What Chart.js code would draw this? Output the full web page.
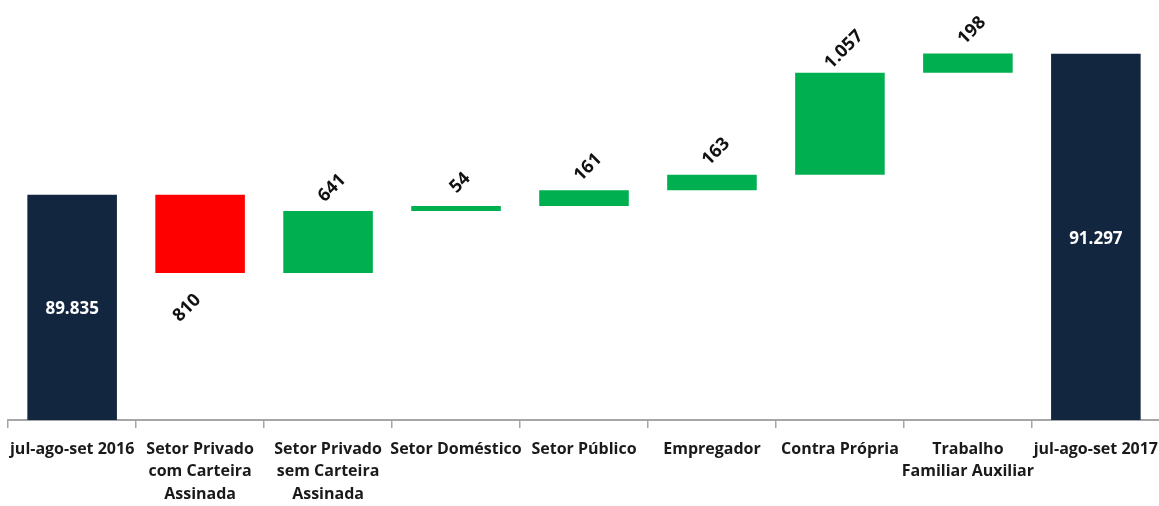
<!DOCTYPE html>
<html>
<head>
<meta charset="utf-8">
<script src="https://cdn.jsdelivr.net/npm/chart.js@4"></script>
<style>
    body { margin: 0; background: #fff; overflow: hidden; }
    #box { width: 1168px; height: 506px; }
</style>
</head>
<body>
<div id="box"><canvas id="waterfall"></canvas></div>
<script>
// categorias do eixo x
const categories = [
    'jul-ago-set 2016',
    ['Setor Privado', 'com Carteira', 'Assinada'],
    ['Setor Privado', 'sem Carteira', 'Assinada'],
    'Setor Doméstico',
    'Setor Público',
    'Empregador',
    'Contra Própria',
    ['Trabalho', 'Familiar Auxiliar'],
    'jul-ago-set 2017'
]
const startTotal = 89835
const endTotal = 91297
const changes = [-810, 641, 54, 161, 163, 1057, 198]

// eixo y cortado (nao comeca no zero)
const yMin = 87500
const yMax = 91855

const NAVY = '#13263f'
const RED = '#ff0000'
const GREEN = '#00b050'
const FONT = "'Open Sans', sans-serif"

function fmt(n) {
    return String(Math.abs(n)).replace(/\B(?=(\d{3})+(?!\d))/g, '.')
}

// monta as barras flutuantes
let ranges = [[yMin, startTotal]]
let colors = [NAVY]
let labels = [fmt(startTotal)]
let running = startTotal
for (let index = 0; index < changes.length; index++) {
    const change = changes[index];
    ranges.push([running, running + change])
    colors.push(change < 0 ? RED : GREEN)
    labels.push(fmt(change))
    running += change
}
ranges.push([yMin, endTotal])
colors.push(NAVY)
labels.push(fmt(endTotal))

const barLabels = {
    id: 'barLabels',
    afterDatasetsDraw(chart) {
        const ctx = chart.ctx
        const bars = chart.getDatasetMeta(0).data
        ctx.save()
        ctx.textAlign = 'center'
        ctx.textBaseline = 'middle'
        for (let index = 0; index < bars.length; index++) {
            const bar = bars[index];
            const top = Math.min(bar.y, bar.base)
            const bottom = Math.max(bar.y, bar.base)
            if (index === 0 || index === bars.length - 1) {
                ctx.fillStyle = '#ffffff'
                ctx.font = 'bold 17px ' + FONT
                ctx.fillText(labels[index], bar.x, (top + bottom) / 2 + 2)
                continue
            }
            let x = bar.x + 4
            let y = top - 23
            if (changes[index - 1] < 0) {
                x = bar.x - 13
                y = bottom + 35
            }
            ctx.save()
            ctx.translate(x, y)
            ctx.rotate(-Math.PI / 4)
            ctx.fillStyle = '#111111'
            ctx.font = 'bold 18px ' + FONT
            ctx.fillText(labels[index], 0, 0)
            ctx.restore()
        }
        ctx.restore()
    }
}

function createChart(element, type, label, datasets, options) {
    const ctx = document.getElementById(element);
    const chart = new Chart(ctx, {
        type: type,
        data: {
            labels: label,
            datasets: datasets
        },
        options: options,
        plugins: [barLabels]
    });
    return chart;
};

let waterfall = createChart(
    'waterfall',
    'bar',
    categories,
    [{
        data: ranges,
        backgroundColor: colors,
        borderSkipped: false,
        barPercentage: 1,
        categoryPercentage: 0.7
    }],
    {
        responsive: true,
        maintainAspectRatio: false,
        animation: false,
        layout: { padding: { left: 8, right: 0, top: 0, bottom: 0 } },
        plugins: {
            legend: { display: false },
            tooltip: { enabled: false }
        },
        scales: {
            y: {
                display: false,
                min: yMin,
                max: yMax
            },
            x: {
                afterFit: scale => { scale.height = 86 },
                border: { display: true, color: '#a6a6a6', width: 2 },
                grid: {
                    drawOnChartArea: false,
                    drawTicks: true,
                    tickLength: 8,
                    color: '#a6a6a6',
                    lineWidth: 1.5
                },
                ticks: {
                    autoSkip: false,
                    maxRotation: 0,
                    minRotation: 0,
                    padding: 10,
                    color: '#1a1a1a',
                    font: { family: FONT, size: 16, weight: 'bold', lineHeight: 1.4 }
                }
            }
        }
    }
);
</script>
</body>
</html>
